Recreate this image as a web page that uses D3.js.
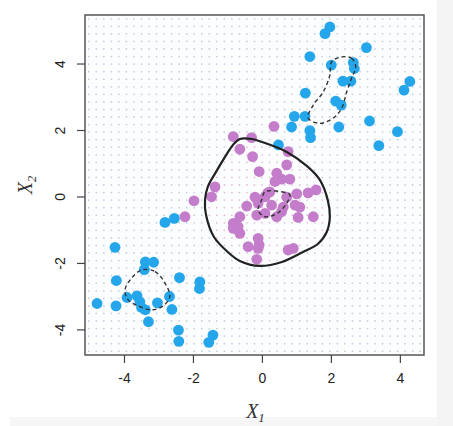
<!DOCTYPE html>
<html>
<head>
<meta charset="utf-8">
<script src="https://cdn.jsdelivr.net/npm/d3@7"></script>
<style>
  body { margin: 0; background: #fff; }
  svg { display: block; }
  .tick text { font-family: "Liberation Sans", Arial, sans-serif; font-size: 14px; fill: #222; }
  .axis-title { font-family: "Liberation Serif", "DejaVu Serif", serif; font-style: italic; fill: #333; }
</style>
</head>
<body>
<div id="chart"></div>
<script>
// class 1 (blue) observations: [x1, x2]
const bluePoints = [
  [1.97, 5.10], [1.83, 4.90], [3.03, 4.48], [1.39, 4.21], [2.01, 3.95],
  [2.65, 4.03], [2.68, 3.85], [2.35, 3.47], [2.58, 3.47], [4.29, 3.46],
  [4.12, 3.20], [1.26, 3.11], [2.14, 2.87], [2.30, 2.75], [0.94, 2.41],
  [1.25, 2.41], [0.86, 2.09], [3.12, 2.27], [2.23, 2.09], [1.39, 1.98],
  [1.41, 1.77], [3.93, 1.95], [3.39, 1.53], [0.48, 1.55],
  [-2.81, -0.78], [-2.54, -0.66], [-4.26, -1.53], [-3.38, -1.97], [-3.14, -1.98],
  [-3.41, -2.20], [-4.22, -2.53], [-2.39, -2.44], [-1.80, -2.57], [-1.81, -2.77],
  [-4.78, -3.22], [-4.23, -3.29], [-3.91, -3.04], [-3.62, -2.99], [-3.54, -3.17],
  [-3.49, -3.34], [-3.38, -3.41], [-3.03, -3.20], [-2.68, -3.01], [-2.61, -3.40],
  [-3.29, -3.77], [-2.42, -4.02], [-2.41, -4.36], [-1.42, -4.17], [-1.54, -4.39]
];

// class 2 (purple) observations
const purplePoints = [
  [-0.83, 1.80], [-0.30, 1.77], [0.35, 2.11], [-0.64, 1.42], [-0.27, 1.20],
  [0.76, 1.35], [-0.08, 0.75], [0.72, 0.95], [0.43, 0.70], [0.57, 0.52],
  [0.81, 0.52], [0.38, 0.45], [-1.36, 0.29], [-1.46, -0.01], [-1.97, -0.13],
  [-2.23, -0.61], [1.34, 0.11], [1.57, 0.20], [-0.20, -0.02], [0.09, -0.01],
  [0.23, 0.14], [0.72, -0.02], [1.01, 0.08], [-0.44, -0.29], [-0.11, -0.20],
  [0.28, -0.26], [0.62, -0.32], [0.96, -0.26], [1.10, -0.32], [-0.64, -0.61],
  [-0.15, -0.56], [0.09, -0.51], [0.43, -0.61], [1.05, -0.63], [1.49, -0.61],
  [-0.83, -0.81], [-0.69, -0.91], [-0.83, -0.96], [-0.64, -1.11], [-0.11, -1.26],
  [-0.08, -1.46], [-0.40, -1.51], [0.76, -1.61], [0.91, -1.56], [-0.15, -1.89],
  [0.17, 0.11], [0.57, -0.46], [-0.11, -1.56]
];

// decision boundary (solid)
const boundary = [
  [-0.64, 1.73], [-0.29, 1.73], [0.00, 1.64], [0.72, 1.34], [1.30, 0.92],
  [1.68, 0.50], [1.91, -0.11], [1.97, -0.62], [1.88, -1.07], [1.62, -1.43],
  [1.19, -1.67], [0.58, -1.97], [-0.06, -2.09], [-0.64, -1.94], [-0.99, -1.67],
  [-1.39, -1.22], [-1.62, -0.56], [-1.65, -0.11], [-1.57, 0.29], [-1.33, 0.74],
  [-1.07, 1.19], [-0.84, 1.55]
];

// margins (dashed)
const marginUpper = [
  [2.31, 4.20], [2.60, 4.16], [2.72, 3.91], [2.60, 3.56], [2.46, 3.15],
  [2.31, 2.65], [2.07, 2.36], [1.68, 2.20], [1.34, 2.36], [1.49, 2.75],
  [1.78, 3.15], [1.97, 3.65], [2.02, 4.05]
];
const marginLower = [
  [-3.49, -2.21], [-3.10, -2.26], [-2.81, -2.61], [-2.67, -3.01], [-2.86, -3.29],
  [-3.20, -3.41], [-3.59, -3.29], [-3.88, -3.11], [-3.97, -2.81], [-3.78, -2.46]
];
const marginCenter = [
  [0.09, 0.14], [0.57, 0.14], [0.81, 0.05], [0.72, -0.20], [0.47, -0.49],
  [0.09, -0.61], [-0.11, -0.41], [-0.01, -0.11]
];

const xTicks = [-4, -2, 0, 2, 4];
const yTicks = [-4, -2, 0, 2, 4];
const xDomain = [-5.13, 4.70];
const yDomain = [-4.77, 5.46];

const width = 453, height = 426;
const plot = {left: 85, right: 424, top: 15, bottom: 355};

const svg = d3.select("#chart").append("svg")
    .attr("width", width)
    .attr("height", height);

// faint frame around the scanned figure
svg.append("rect").attr("x", 437).attr("y", 0).attr("width", 16).attr("height", height).attr("fill", "#f4f4f4");
svg.append("rect").attr("x", 10).attr("y", 417).attr("width", 427).attr("height", 9).attr("fill", "#f6f6f6");

const x = d3.scaleLinear().domain(xDomain).range([plot.left, plot.right]);
const y = d3.scaleLinear().domain(yDomain).range([plot.bottom, plot.top]);

svg.append("rect")
    .attr("x", plot.left).attr("y", plot.top)
    .attr("width", plot.right - plot.left).attr("height", plot.bottom - plot.top)
    .attr("fill", "#fbfdfe");

// prediction grid
const boundaryPx = boundary.map(d => [x(d[0]), y(d[1])]);
const nGrid = 45;
const gx = d3.range(nGrid).map(i => xDomain[0] + (i + 0.5) * (xDomain[1] - xDomain[0]) / nGrid);
const gy = d3.range(nGrid).map(i => yDomain[0] + (i + 0.5) * (yDomain[1] - yDomain[0]) / nGrid);
const grid = d3.cross(gx, gy);

svg.append("g").selectAll("circle")
    .data(grid)
    .join("circle")
    .attr("cx", d => x(d[0]))
    .attr("cy", d => y(d[1]))
    .attr("r", 0.9)
    .attr("fill", d => d3.polygonContains(boundaryPx, [x(d[0]), y(d[1])]) ? "#e2bfe0" : "#c2d3e4");

// points
svg.append("g").selectAll("circle")
    .data(bluePoints)
    .join("circle")
    .attr("cx", d => x(d[0]))
    .attr("cy", d => y(d[1]))
    .attr("r", 5.4)
    .attr("fill", "#25a6ea");

svg.append("g").selectAll("circle")
    .data(purplePoints)
    .join("circle")
    .attr("cx", d => x(d[0]))
    .attr("cy", d => y(d[1]))
    .attr("r", 5.4)
    .attr("fill", "#c47dca");

const line = d3.line()
    .x(d => x(d[0]))
    .y(d => y(d[1]))
    .curve(d3.curveCatmullRomClosed.alpha(0.5));

svg.append("path")
    .attr("d", line(boundary))
    .attr("fill", "none")
    .attr("stroke", "#222")
    .attr("stroke-width", 2.2);

[marginUpper, marginLower, marginCenter].forEach(m => {
    svg.append("path")
        .attr("d", line(m))
        .attr("fill", "none")
        .attr("stroke", "#333")
        .attr("stroke-width", 1.4)
        .attr("stroke-dasharray", "4,3");
});

// box
svg.append("rect")
    .attr("x", plot.left).attr("y", plot.top)
    .attr("width", plot.right - plot.left).attr("height", plot.bottom - plot.top)
    .attr("fill", "none")
    .attr("stroke", "#555")
    .attr("stroke-width", 1.5);

// axes
const xAxis = d3.axisBottom(x).tickValues(xTicks).tickSize(8).tickPadding(10).tickSizeOuter(0).tickFormat(d3.format("d"));
const yAxis = d3.axisLeft(y).tickValues(yTicks).tickSize(8).tickPadding(8).tickSizeOuter(0).tickFormat(d3.format("d"));

const gX = svg.append("g")
    .attr("class", "x-axis axis")
    .attr("transform", `translate(0,${plot.bottom})`)
    .call(xAxis);
gX.select(".domain").remove();
gX.selectAll(".tick line").attr("stroke", "#444").attr("stroke-width", 1.2);
gX.selectAll(".tick text").text(d => String(d).replace("\u2212", "-"));

const gY = svg.append("g")
    .attr("class", "y-axis axis")
    .attr("transform", `translate(${plot.left},0)`)
    .call(yAxis);
gY.select(".domain").remove();
gY.selectAll(".tick line").attr("stroke", "#444").attr("stroke-width", 1.2);
gY.selectAll(".tick text")
    .text(d => String(d).replace("\u2212", "-"))
    .attr("x", null).attr("dy", null)
    .attr("text-anchor", "middle")
    .attr("transform", "translate(-25,0) rotate(-90)")
    .attr("dy", "0.35em");

// axis titles
const xt = svg.append("text")
    .attr("class", "axis-title")
    .attr("x", (plot.left + plot.right) / 2 + 1)
    .attr("y", 418)
    .attr("text-anchor", "middle")
    .attr("font-size", 20);
xt.append("tspan").text("X");
xt.append("tspan").attr("font-size", 13).attr("dy", 4).text("1");

const yt = svg.append("text")
    .attr("class", "axis-title")
    .attr("transform", `translate(32,${(plot.top + plot.bottom) / 2}) rotate(-90)`)
    .attr("text-anchor", "middle")
    .attr("font-size", 20);
yt.append("tspan").text("X");
yt.append("tspan").attr("font-size", 13).attr("dy", 4).text("2");
</script>
</body>
</html>
